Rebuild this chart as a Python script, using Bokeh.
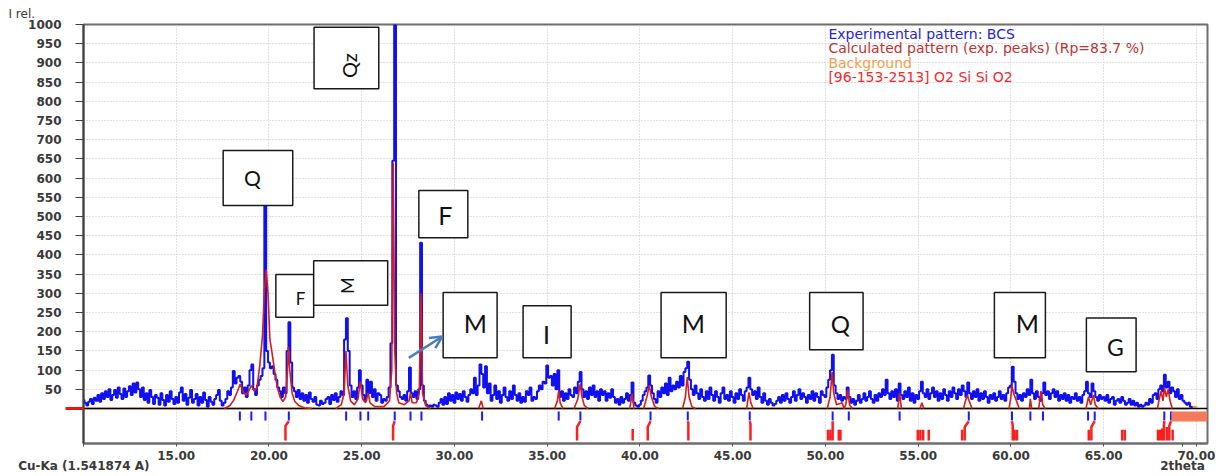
import math
import numpy as np
from bokeh.plotting import figure
from bokeh.models import (FixedTicker, Arrow, OpenHead, Span, Title, Label,
                          CustomJSTickFormatter, ColumnDataSource)
from bokeh.core.properties import value
from bokeh.embed import file_html
from bokeh.resources import INLINE

# ---------------------------------------------------------------- data
# measured intensity, one value per 0.1 deg 2theta, 10.0 .. 69.8
step_angle = np.round(np.arange(10.0, 69.85, 0.1), 1)
intensity = [
    22, 15, 8, 18, 25, 12, 28, 20, 35, 18,          # 10
    40, 25, 45, 30, 50, 22, 35, 48, 28, 55,         # 11
    38, 25, 52, 30, 45, 58, 35, 65, 42, 68,         # 12
    50, 30, 55, 22, 40, 15, 48, 30, 12, 35,         # 13
    28, 10, 40, 22, 8, 35, 18, 45, 25, 12,          # 14
    30, 15, 42, 55, 20, 38, 10, 28, 48, 15,         # 15
    25, 38, 8, 30, 15, 42, 22, 5, 30, 18,           # 16
    10, 25, 35, 48, 20, 8, 15, 25, 45, 35,          # 17
    55, 98, 65, 80, 85, 70, 40, 55, 30, 60,         # 18
    100, 115, 50, 35, 60, 75, 85, 105, 535, 150,    # 19
    120, 105, 110, 90, 75, 55, 45, 30, 55, 40,      # 20
    150, 225, 120, 55, 45, 30, 48, 25, 40, 20,      # 21
    35, 15, 42, 25, 18, 30, 10, 8, 20, 12,          # 22
    15, 25, 30, 12, 35, 22, 40, 18, 30, 45,         # 23
    35, 180, 235, 150, 60, 30, 45, 25, 55, 100,     # 24
    60, 35, 20, 75, 40, 70, 30, 50, 20, 40,         # 25
    35, 15, 25, 20, 30, 55, 170, 645, 1000, 60,     # 26
    45, 30, 25, 35, 20, 45, 107, 40, 30, 45,        # 27
    25, 50, 432, 60, 20, 10, 5, 8, 5, 10,           # 28
    8, 5, 15, 25, 10, 30, 12, 40, 20, 35,           # 29
    15, 42, 25, 38, 20, 45, 30, 18, 35, 50,         # 30
    40, 80, 35, 60, 115, 90, 55, 110, 40, 65,       # 31
    20, 35, 60, 25, 45, 15, 35, 55, 30, 20,         # 32
    45, 25, 60, 35, 20, 40, 15, 30, 18, 45,         # 33
    35, 55, 20, 30, 25, 45, 60, 50, 70, 65,         # 34
    112, 80, 85, 60, 90, 50, 100, 30, 45, 20,       # 35
    40, 25, 50, 35, 30, 55, 40, 70, 95, 50,         # 36
    30, 45, 25, 55, 35, 60, 30, 45, 20, 50,         # 37
    35, 45, 20, 40, 28, 50, 30, 15, 25, 10,         # 38
    30, 15, 25, 40, 20, 35, 68, 15, 8, 5,           # 39
    10, 20, 35, 45, 55, 86, 60, 40, 25, 15,         # 40
    45, 30, 55, 40, 65, 35, 80, 45, 60, 50,         # 41
    70, 55, 85, 60, 95, 105, 122, 75, 50, 35,       # 42
    60, 40, 25, 50, 30, 20, 45, 25, 55, 35,         # 43
    20, 45, 30, 15, 40, 55, 25, 35, 20, 45,         # 44
    30, 15, 40, 25, 50, 35, 20, 45, 55, 80,         # 45
    50, 35, 45, 25, 55, 30, 15, 40, 20, 10,         # 46
    25, 15, 8, 12, 20, 30, 15, 35, 20, 40,          # 47
    25, 15, 30, 45, 20, 35, 50, 25, 40, 30,         # 48
    15, 35, 25, 45, 20, 40, 30, 15, 45, 35,         # 49
    30, 55, 75, 100, 140, 60, 40, 25, 35, 20,       # 50
    30, 25, 55, 30, 15, 25, 10, 20, 35, 15,         # 51
    25, 40, 20, 30, 45, 25, 15, 35, 20, 40,         # 52
    30, 50, 35, 75, 40, 25, 45, 30, 50, 20,         # 53
    65, 35, 25, 45, 30, 55, 20, 40, 15, 35,         # 54
    25, 45, 70, 40, 30, 50, 25, 40, 55, 30,         # 55
    45, 20, 40, 25, 50, 35, 20, 45, 30, 55,         # 56
    40, 25, 50, 35, 60, 45, 30, 68, 40, 25,         # 57
    45, 30, 50, 20, 40, 25, 45, 30, 15, 35,         # 58
    25, 40, 20, 30, 45, 25, 35, 20, 40, 55,         # 59
    60, 109, 70, 40, 25, 35, 20, 40, 30, 50,        # 60
    35, 75, 40, 25, 45, 30, 20, 40, 68, 35,         # 61
    45, 25, 40, 50, 30, 45, 20, 35, 25, 40,         # 62
    20, 35, 15, 30, 25, 40, 20, 30, 15, 35,         # 63
    45, 70, 40, 30, 65, 45, 30, 20, 35, 25,         # 64
    30, 20, 35, 15, 25, 30, 10, 20, 25, 15,         # 65
    30, 20, 10, 15, 25, 10, 20, 8, 15, 5,           # 66
    10, 5, 8, 15, 10, 25, 15, 35, 40, 25,           # 67
    50, 60, 45, 88, 55, 70, 40, 55, 45, 30,         # 68
    50, 25, 35, 20, 15, 10, 15, 5, 3,               # 69
]

# calculated pattern from the fitted peaks (gaps where it lies on zero)
nan = float("nan")
calc_angle = [
    17.6, 17.9, 18.1, 18.3, 18.45, 18.6, 18.75, 18.9, 19.05, 19.2, 19.35,
    19.5, 19.65, 19.75, 19.85, 19.95, 20.05, 20.15, 20.3, 20.45, 20.6,
    20.75, 20.9, 21.0, 21.05, 21.12, 21.25, 21.4, 21.6, 21.9, 22.3, nan,
    23.6, 23.9, 24.05, 24.15, 24.25, 24.4, 24.6, 24.8, 24.92, 25.05, 25.2,
    25.35, 25.45, 25.7, 26.2, 26.5, 26.62, 26.7, 26.78, 26.88, 27.0, 27.3,
    27.55, 27.63, 27.72, 27.95, 28.1, 28.2, 28.28, 28.45, 28.7, nan,
    31.3, 31.45, 31.55, nan,
    35.4, 35.55, 35.62, 35.7, 35.85, nan,
    36.45, 36.65, 36.78, 36.88, 37.0, 37.2, nan,
    39.45, 39.58, 39.68, nan,
    40.2, 40.4, 40.5, 40.62, 40.8, 41.0, nan,
    42.3, 42.45, 42.55, 42.65, 42.8, 43.0, nan,
    45.75, 45.88, 45.98, 46.1, nan,
    50.1, 50.25, 50.36, 50.45, 50.6, 50.9, 51.0, 51.1, 51.2, 51.3, 51.45, nan,
    53.9, 54.0, 54.1, nan,
    55.1, 55.2, 55.3, nan,
    57.45, 57.55, 57.65, 57.75, 57.9, nan,
    59.9, 60.0, 60.05, 60.15, 60.3, 60.45, nan,
    61.0, 61.05, 61.12, nan,
    61.5, 61.62, 61.72, 61.85, nan,
    64.05, 64.18, 64.3, 64.45, 64.55, 64.7, nan,
    67.9, 68.0, 68.1, 68.2, 68.28, 68.38, 68.48, 68.58, 68.7,
]
calc_intensity = [
    0, 8, 22, 45, 64, 45, 35, 45, 60, 45, 55,
    110, 190, 300, 362, 300, 180, 150, 100, 55, 30,
    18, 30, 100, 160, 100, 40, 18, 8, 2, 0, nan,
    0, 10, 40, 150, 60, 20, 10, 25, 70, 25, 15,
    40, 15, 5, 5, 20, 100, 640, 150, 40, 15, 10,
    20, 40, 15, 15, 40, 300, 40, 8, 0, nan,
    0, 20, 0, nan,
    0, 20, 47, 15, 0, nan,
    0, 25, 64, 30, 8, 0, nan,
    0, 38, 0, nan,
    0, 35, 60, 30, 5, 0, nan,
    0, 30, 82, 30, 5, 0, nan,
    0, 42, 15, 0, nan,
    0, 30, 95, 40, 10, 15, 0, 10, 49, 10, 0, nan,
    0, 40, 0, nan,
    0, 15, 0, nan,
    0, 20, 34, 20, 0, nan,
    0, 30, 60, 40, 20, 0, nan,
    0, 25, 0, nan,
    0, 46, 10, 0, nan,
    0, 30, 10, 35, 10, 0, nan,
    0, 25, 45, 20, 55, 30, 50, 20, 0,
]

# background curve
bg_angle = [10.0, 69.6, 69.72, 70.05]
bg_intensity = [0, 0, 5, 5]

# positions of the peaks found in the measured pattern
exp_peaks = [18.43, 19.05, 19.81, 21.07, 24.16, 24.93, 25.35, 26.78, 27.63,
             28.22, 31.49, 35.62, 36.79, 40.57, 42.58, 45.92, 50.39, 51.26,
             54.0, 57.73, 60.06, 61.05, 61.73, 64.16, 64.52, 68.27, 68.63]

# reference card [96-153-2513] line positions, stick tops and the
# measured peak each matched line is linked to (None = no link)
ref_lines = [20.89, 26.69, 36.61, 39.61, 40.42, 42.61, 45.96, 50.14, 50.27,
             50.39, 50.72, 50.81, 54.98, 55.12, 55.27, 55.57, 57.37, 57.51,
             60.10, 60.20, 60.33, 64.20, 64.34, 66.00, 66.14, 67.93, 68.04,
             68.15, 68.25, 68.41, 68.54, 68.72]
ref_top = [-45, -45, -48, -53, -48, -38, -40, -55, -55,
           -47, -55, -55, -55, -55, -55, -55, -55, -48,
           -45, -55, -55, -55, -48, -55, -55, -55, -55,
           -52, -45, -48, -45, -55]
ref_link = [21.07, 26.78, 36.79, None, 40.57, 42.58, 45.92, None, None,
            50.39, None, None, None, None, None, None, None, 57.73,
            60.06, None, None, None, 64.52, None, None, None, None,
            None, 68.27, None, 68.63, None]

# phase labels placed over the pattern
phase_text = ["Q", "F", "M", "Qz", "F", "M", "I", "M", "Q", "M", "G"]
box_left = [17.53, 20.37, 22.41, 22.43, 28.08, 29.39, 33.70, 41.14, 49.15, 59.11, 64.07]
box_right = [21.28, 22.41, 26.40, 25.92, 30.72, 32.30, 36.29, 44.65, 52.03, 61.86, 66.75]
box_top = [672, 349, 385, 993, 568, 302, 268, 302, 302, 302, 236]
box_bottom = [529, 238, 269, 833, 445, 132, 132, 132, 153, 132, 96]
text_x = [19.11, 21.70, 24.23, 24.34, 29.51, 31.13, 34.96, 42.88, 50.81, 60.89, 65.63]
text_y = [601, 286, 320, 893, 505, 224, 195, 224, 221, 224, 159]
text_size = ["21px", "17px", "18px", "20px", "25px", "25px", "25px", "25px", "24px", "25px", "23px"]
text_angle = [0, 0, math.pi / 2, math.pi / 2, 0, 0, 0, 0, 0, 0, 0]

x_ticks = [15, 20, 25, 30, 35, 40, 45, 50, 55, 60, 65, 70]
y_ticks = list(range(50, 1001, 50))

# captions carried on the 2theta axis (second text line under the ticks)
x_caption_at = {10.02: "Cu-Ka (1.541874 A)", 69.25: "2theta"}

legend_rows = [
    ("Experimental pattern: BCS", "#2424e6"),
    ("Calculated pattern (exp. peaks) (Rp=83.7 %)", "#c43030"),
    ("Background", "#f2a04a"),
    ("[96-153-2513] O2 Si Si O2", "#ee2c2c"),
]

# ---------------------------------------------------------------- figure
p = figure(width=1220, height=476, x_range=(10, 70.6), y_range=(-91, 1000),
           output_backend="svg", toolbar_location=None,
           min_border_left=83, min_border_right=13,
           min_border_top=24, min_border_bottom=33)
p.background_fill_color = "white"
p.border_fill_color = "white"
p.outline_line_color = "#6e6e6e"
p.outline_line_width = 2

p.xgrid.ticker = FixedTicker(ticks=x_ticks)
p.ygrid.ticker = FixedTicker(ticks=y_ticks)
for g in (p.xgrid, p.ygrid):
    g.grid_line_color = "#c4c4c4"
    g.grid_line_dash = "1 2"
    g.grid_line_width = 1

tick_font = dict(major_label_text_font="DejaVu Sans",
                 major_label_text_font_size="12px",
                 major_label_text_font_style="bold",
                 major_label_text_color="#3a3a3a")

xa = p.xaxis[0]
xa.ticker = FixedTicker(ticks=sorted(x_ticks + list(x_caption_at)))
xa.formatter = CustomJSTickFormatter(
    args=dict(captions={str(k): v for k, v in x_caption_at.items()}),
    code="""
        const c = captions[String(tick)];
        return c === undefined ? tick.toFixed(2) : "\\n" + c;
    """)
xa.axis_line_color = "#6e6e6e"
xa.axis_line_width = 2
xa.major_tick_out = 3
xa.major_tick_in = 0
xa.major_tick_line_color = "#555555"
xa.minor_tick_line_color = None
xa.major_label_standoff = 2
xa.major_label_text_line_height = 0.75
for k, v in tick_font.items():
    setattr(xa, k, v)

ya = p.yaxis[0]
# the single minor tick marks the zero line in red
ya.ticker = FixedTicker(ticks=y_ticks, minor_ticks=[0])
ya.axis_line_color = "#404040"
ya.axis_line_width = 2
ya.major_tick_out = 8
ya.major_tick_in = 0
ya.major_tick_line_color = "#404040"
ya.minor_tick_out = 18
ya.minor_tick_in = 0
ya.minor_tick_line_color = "#ee1111"
ya.minor_tick_line_width = 3
ya.major_label_standoff = 4
for k, v in tick_font.items():
    setattr(ya, k, v)

p.add_layout(Title(text="I rel.", align="left", offset=-75, standoff=7,
                   text_font="DejaVu Sans", text_font_size="12px",
                   text_font_style="normal", text_color="#3a3a3a"), "above")

# background curve sits under the zero line
bg = p.line(bg_angle, bg_intensity, line_color="#f59a3c", line_width=2)
bg.level = "underlay"
p.add_layout(Span(location=0, dimension="width", line_color="black",
                  line_width=1.5, level="underlay"))

# measured pattern
p.step(step_angle, intensity, mode="center", line_color="#1010f0", line_width=2)

# calculated pattern
p.line(calc_angle, calc_intensity, line_color="#d81c1c", line_width=1.6)

# measured peak markers
p.segment(x0=exp_peaks, y0=[-8] * len(exp_peaks), x1=exp_peaks,
          y1=[-31] * len(exp_peaks), line_color="#1a1aff", line_width=2)

# reference card lines
ref_xs, ref_ys = [], []
for pos, top, link in zip(ref_lines, ref_top, ref_link):
    xs, ys = [pos, pos], [-83, top]
    if link is not None:
        xs.append(link)
        ys.append(-33)
    ref_xs.append(xs)
    ref_ys.append(ys)
p.multi_line(ref_xs, ref_ys, line_color="#ff1e1e", line_width=2.5)

# fitted range bar
p.quad(left=[68.65], right=[70.6], top=[-8], bottom=[-34],
       fill_color="#f47a5a", line_color=None)

# phase label boxes
p.quad(left=box_left, right=box_right, top=box_top, bottom=box_bottom,
       fill_color="white", line_color="#1a1a1a", line_width=1.5)
src = ColumnDataSource(dict(x=text_x, y=text_y, t=phase_text,
                            s=text_size, a=text_angle))
p.text(x="x", y="y", text="t", angle="a", text_font_size="s", source=src,
       text_font=value("Lato"), text_color="#111111",
       text_align="center", text_baseline="middle")

# pointer arrow towards the weak peak
p.add_layout(Arrow(end=OpenHead(size=12, line_color="#4a7ebb", line_width=2.5),
                   x_start=27.54, y_start=132, x_end=29.34, y_end=187.5,
                   line_color="#4a7ebb", line_width=2.5))

# legend entries
legend_y = [976, 940, 901, 862]
for (txt, col), yy in zip(legend_rows, legend_y):
    p.add_layout(Label(x=50.16, y=yy, text=txt, text_color=col,
                       text_font="DejaVu Sans", text_font_size="14px",
                       text_baseline="middle", text_align="left"))

open("out.html", "w").write(file_html(p, INLINE))
